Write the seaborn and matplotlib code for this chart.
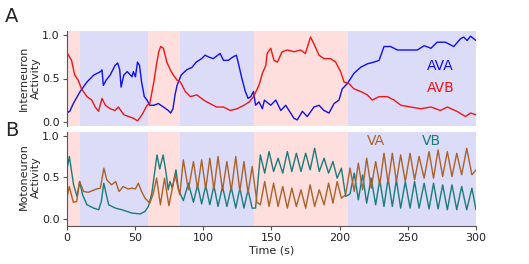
import numpy as np
import pandas as pd
import seaborn as sns
import matplotlib
matplotlib.use("Agg")
import matplotlib.pyplot as plt

# ---------------- data ----------------
# behavioural state intervals (start, end, state)
state_start = [0, 10, 60, 83, 137, 206]
state_end = [10, 60, 83, 137, 206, 300]
state_kind = ["rev", "fwd", "rev", "fwd", "rev", "fwd"]

# AVA interneuron
ava_t = [0, 2.4, 5, 10, 15, 20, 25, 26, 27, 29, 32, 35.5, 37.5, 39, 40, 42, 44.5, 48, 49, 50.5,
         52, 53.5, 55, 57, 59, 61, 64, 67.3, 71, 74.6, 76.3, 78, 79.5, 81, 84, 88, 92, 95, 99,
         101.5, 104, 107.5, 112.5, 115, 118.5, 122, 124.5, 126, 128.5, 131, 133, 135, 137,
         138.5, 141, 143.5, 145, 149.6, 153.3, 157, 160.6, 163, 166.6, 169, 172.8, 176.4,
         181.3, 185, 188.6, 192.3, 196, 199.6, 202, 205.7, 210.6, 215.5, 220.4, 225.3, 229,
         232.6, 237.5, 242.4, 249.7, 257, 262, 267, 271.5, 277.6, 283.7, 288.6, 291, 293.5,
         296, 300]
ava_v = [0.10, 0.12, 0.21, 0.35, 0.46, 0.54, 0.58, 0.60, 0.42, 0.48, 0.54, 0.65, 0.68, 0.60, 0.40,
         0.54, 0.58, 0.52, 0.58, 0.52, 0.69, 0.65, 0.46, 0.29, 0.25, 0.19, 0.19, 0.21, 0.17, 0.13,
         0.10, 0.15, 0.31, 0.42, 0.54, 0.60, 0.63, 0.69, 0.73, 0.77, 0.75, 0.73, 0.79, 0.71, 0.71,
         0.75, 0.77, 0.67, 0.50, 0.35, 0.27, 0.29, 0.35, 0.19, 0.23, 0.15, 0.25, 0.19, 0.25, 0.13,
         0.19, 0.13, 0.04, 0.02, 0.12, 0.06, 0.17, 0.19, 0.13, 0.10, 0.21, 0.25, 0.38, 0.44, 0.56,
         0.63, 0.67, 0.69, 0.71, 0.87, 0.87, 0.83, 0.83, 0.83, 0.88, 0.85, 0.92, 0.92, 0.87, 0.96,
         0.98, 0.94, 0.99, 0.94]

# AVB interneuron
avb_t = [0, 3.7, 6, 8.6, 11, 15, 18.5, 21, 23.5, 26, 28.5, 32, 35.5, 38, 42, 45.5, 49, 52, 54, 56,
         59, 61, 64, 66, 67.6, 69, 71, 73.5, 76, 78.3, 81, 83.4, 87, 90.7, 95.6, 100.5, 105, 110,
         115, 120, 125, 130, 134, 137, 141, 143.5, 146, 147, 149.6, 152, 154.5, 158, 161.8, 166.6,
         171.5, 175, 178.8, 181.3, 185, 188.6, 193.5, 197.2, 200.8, 203.3, 207, 210.6, 215.5,
         220.4, 224, 229, 235, 240, 245, 252, 259.5, 267, 274, 279, 286, 292.3, 296, 300]
avb_v = [0.81, 0.71, 0.54, 0.48, 0.38, 0.29, 0.25, 0.17, 0.12, 0.27, 0.19, 0.15, 0.13, 0.17, 0.08,
         0.06, 0.04, 0.01, 0.05, 0.10, 0.19, 0.21, 0.46, 0.67, 0.81, 0.87, 0.85, 0.69, 0.60, 0.54,
         0.48, 0.46, 0.35, 0.29, 0.31, 0.25, 0.21, 0.17, 0.17, 0.13, 0.15, 0.19, 0.23, 0.29, 0.42,
         0.56, 0.65, 0.79, 0.85, 0.71, 0.69, 0.81, 0.83, 0.81, 0.83, 0.79, 0.98, 0.90, 0.77, 0.73,
         0.73, 0.69, 0.58, 0.46, 0.44, 0.38, 0.35, 0.31, 0.25, 0.29, 0.29, 0.25, 0.19, 0.17, 0.15,
         0.17, 0.13, 0.17, 0.12, 0.06, 0.10, 0.08]

# VA motoneuron
va_t = [0, 2, 5, 7.5, 9.6, 12.5, 16, 19, 22, 24.8, 27.4, 29.5, 33, 36, 38.5, 41.5, 45, 48, 50.5,
        52.6, 55, 57.5, 61, 63.5, 66, 68.8, 71.8, 75, 79.5, 83, 85.6, 89.3, 93, 96, 99, 102, 105,
        108, 111, 114.3, 117.5, 120.7, 124, 127, 130, 133, 136, 139.5, 142, 145.2, 148.4, 151.7,
        155, 158.4, 161.8, 165.1, 168.4, 171.8, 175.2, 178.5, 181.8, 185.2, 188.7, 192, 195.2,
        198.3, 201.4, 204.5, 207.7, 210.8, 213.8, 216.9, 219.9, 223.2, 226.5, 229.5, 232.6,
        235.6, 238.7, 241.7, 244.8, 248.2, 251.7, 255, 258.3, 262, 265.6, 268.9, 272.2, 275.6,
        279, 282.4, 285.9, 289.5, 293.2, 297, 300]
va_v = [0.23, 0.39, 0.20, 0.21, 0.45, 0.33, 0.32, 0.34, 0.36, 0.37, 0.61, 0.47, 0.41, 0.45, 0.33,
        0.39, 0.36, 0.37, 0.36, 0.43, 0.33, 0.25, 0.19, 0.30, 0.49, 0.17, 0.49, 0.16, 0.53, 0.29,
        0.71, 0.35, 0.69, 0.36, 0.71, 0.36, 0.73, 0.35, 0.75, 0.34, 0.69, 0.34, 0.75, 0.33, 0.69,
        0.31, 0.63, 0.20, 0.17, 0.45, 0.15, 0.43, 0.15, 0.39, 0.13, 0.37, 0.15, 0.35, 0.13, 0.41,
        0.15, 0.35, 0.17, 0.43, 0.19, 0.45, 0.25, 0.29, 0.61, 0.33, 0.67, 0.35, 0.73, 0.37, 0.69,
        0.41, 0.79, 0.43, 0.79, 0.45, 0.77, 0.45, 0.79, 0.47, 0.75, 0.49, 0.81, 0.49, 0.83, 0.51,
        0.81, 0.51, 0.79, 0.53, 0.85, 0.53, 0.59]

# VB motoneuron
vb_t = [0, 2.1, 5.2, 7.7, 9.6, 11.8, 15, 19.9, 23.6, 25.5, 27.3, 29.2, 30.9, 35.8, 40.7, 48, 54,
        57.5, 60, 62.5, 64.5, 66.3, 68.3, 70.8, 73, 74.5, 75.8, 77.5, 80.2, 82.1, 85.6, 89.3, 93,
        96, 99, 102, 105, 108, 111, 114.3, 117.5, 120.7, 124, 127, 130, 133, 136, 138.5, 142,
        145.2, 148.4, 151.7, 155, 158.4, 161.8, 165.1, 168.4, 171.8, 175.2, 178.5, 181.8, 185.2,
        188.7, 192, 195.2, 198.3, 201.4, 204.5, 207.7, 210.8, 213.8, 216.9, 219.9, 223.2, 226.5,
        229.5, 232.6, 235.6, 238.7, 241.7, 244.8, 248.2, 251.7, 255, 258.3, 262, 265.6, 268.9,
        272.2, 275.6, 279, 282.4, 285.9, 289.5, 293.2, 297, 300]
vb_v = [0.57, 0.75, 0.41, 0.27, 0.45, 0.29, 0.17, 0.13, 0.11, 0.21, 0.43, 0.29, 0.17, 0.13, 0.11,
        0.07, 0.06, 0.09, 0.15, 0.31, 0.55, 0.77, 0.60, 0.77, 0.55, 0.35, 0.45, 0.37, 0.59, 0.35,
        0.22, 0.43, 0.20, 0.41, 0.18, 0.40, 0.17, 0.40, 0.15, 0.39, 0.15, 0.38, 0.13, 0.37, 0.13,
        0.35, 0.13, 0.13, 0.77, 0.55, 0.81, 0.57, 0.73, 0.55, 0.81, 0.57, 0.79, 0.57, 0.79, 0.59,
        0.85, 0.57, 0.73, 0.55, 0.69, 0.49, 0.61, 0.27, 0.30, 0.55, 0.23, 0.53, 0.19, 0.49, 0.17,
        0.47, 0.15, 0.49, 0.15, 0.47, 0.13, 0.45, 0.13, 0.45, 0.13, 0.43, 0.12, 0.43, 0.12, 0.41,
        0.11, 0.41, 0.11, 0.39, 0.11, 0.37, 0.11]

x_ticks = [0, 50, 100, 150, 200, 250, 300]
y_ticks = [0.0, 0.5, 1.0]

# ---------------- styling ----------------
C_AVA = "#0f0ff0"
C_AVB = "#f01515"
C_VA = "#a8622a"
C_VB = "#1a7c78"
C_REV = "#ffdede"
C_FWD = "#dcdcf9"
SPINE = "#555555"

sns.set_style("ticks")
plt.rcParams["font.family"] = ["DejaVu Sans"]

fig = plt.figure(figsize=(5.29, 2.64), dpi=100)
W, H = 529, 264
axA = fig.add_axes([66.5 / W, 1 - 126 / H, 409.5 / W, 95 / H])
axB = fig.add_axes([66.5 / W, 1 - 226 / H, 409.5 / W, 94 / H])

for ax in (axA, axB):
    for s, e, k in zip(state_start, state_end, state_kind):
        ax.axvspan(s, e, color=C_REV if k == "rev" else C_FWD, lw=0, zorder=0)

dfA1 = pd.DataFrame({"t": ava_t, "v": ava_v})
dfA2 = pd.DataFrame({"t": avb_t, "v": avb_v})
dfB1 = pd.DataFrame({"t": va_t, "v": va_v})
dfB2 = pd.DataFrame({"t": vb_t, "v": vb_v})

sns.lineplot(data=dfA1, x="t", y="v", ax=axA, color=C_AVA, lw=1.0, sort=False, estimator=None)
sns.lineplot(data=dfA2, x="t", y="v", ax=axA, color=C_AVB, lw=1.0, sort=False, estimator=None)
sns.lineplot(data=dfB2, x="t", y="v", ax=axB, color=C_VB, lw=1.0, sort=False, estimator=None)
sns.lineplot(data=dfB1, x="t", y="v", ax=axB, color=C_VA, lw=1.0, sort=False, estimator=None)

axA.set_xlim(0, 300)
axA.set_ylim(-0.05, 1.05)
axB.set_xlim(0, 300)
axB.set_ylim(-0.085, 1.045)

for ax in (axA, axB):
    ax.set_xlabel("")
    ax.set_ylabel("")
    ax.set_yticks(y_ticks)
    ax.set_yticklabels([f"{v:.1f}" for v in y_ticks])
    for sp in ("top", "right"):
        ax.spines[sp].set_visible(False)
    ax.spines["left"].set_color(SPINE)
    ax.tick_params(axis="both", colors="#222222", labelsize=8, length=3,
                   width=0.8, color=SPINE, pad=2)

axA.spines["bottom"].set_visible(False)
axA.set_xticks([])
axB.spines["bottom"].set_color(SPINE)
axB.set_xticks(x_ticks)
axB.set_xticklabels([str(v) for v in x_ticks])
axB.set_xlabel("Time (s)", fontsize=8, labelpad=2)

axA.text(274, 0.65, "AVA", color=C_AVA, fontsize=10, ha="center", va="center")
axA.text(274, 0.39, "AVB", color=C_AVB, fontsize=10, ha="center", va="center")
axB.text(227, 0.94, "VA", color=C_VA, fontsize=10, ha="center", va="center")
axB.text(267, 0.94, "VB", color=C_VB, fontsize=10, ha="center", va="center")

fig.text(30 / W, 1 - 78 / H, "Interneuron\nActivity", rotation=90, ha="center",
         va="center", fontsize=8, multialignment="center")
fig.text(30 / W, 1 - 177 / H, "Motoneuron\nActivity", rotation=90, ha="center",
         va="center", fontsize=8, multialignment="center")
fig.text(12 / W, 1 - 17 / H, "A", fontsize=14, ha="center", va="center")
fig.text(12 / W, 1 - 130 / H, "B", fontsize=14, ha="center", va="center")

fig.savefig("out.png", dpi=100)
